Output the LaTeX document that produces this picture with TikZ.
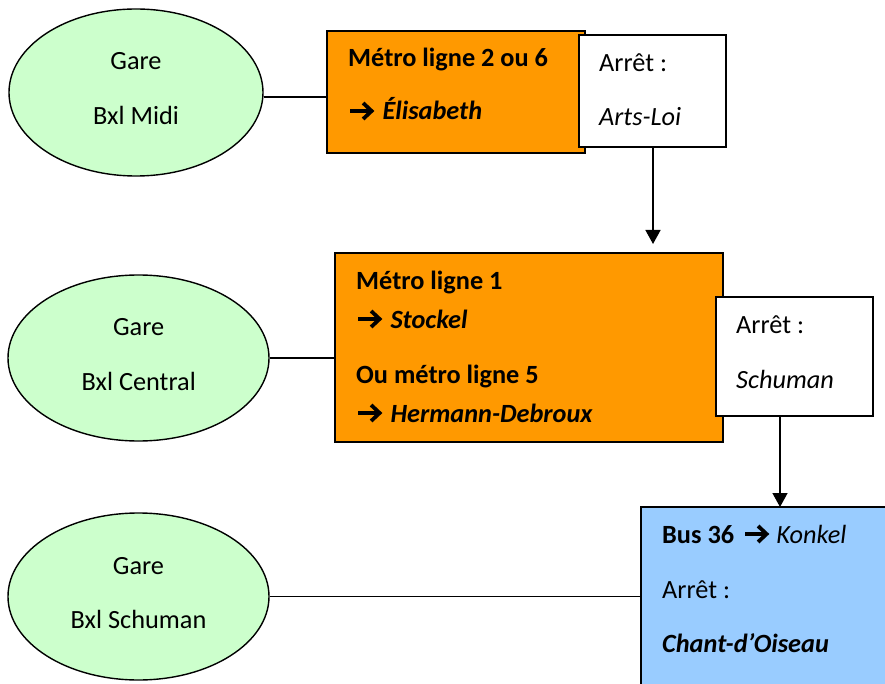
\documentclass[tikz,border=0pt]{standalone}
\usepackage{fontspec}
\setmainfont{Carlito}
\usetikzlibrary{shapes.geometric,arrows.meta}
\definecolor{gareGreen}{HTML}{CCFFCC}
\definecolor{metroOrange}{HTML}{FF9900}
\definecolor{busBlue}{HTML}{99CCFF}
\newcommand{\warr}{\tikz[baseline=0pt,x=1pt,y=1pt]{\draw[line width=3.8pt,line cap=butt,line join=miter] (0,9)--(21,9) (13,17)--(21.5,9)--(13,1);}}
\tikzset{
  gare/.style={ellipse,draw=black,line width=1.4pt,fill=gareGreen,inner sep=0pt},
  metrobox/.style={rectangle,draw=black,line width=1.4pt,fill=metroOrange,inner sep=0pt},
  stopbox/.style={rectangle,draw=black,line width=1.4pt,fill=white,inner sep=0pt},
  busbox/.style={rectangle,draw=black,line width=1.4pt,fill=busBlue,inner sep=0pt},
  txt/.style={inner sep=0pt,font=\fontsize{26.3}{30}\selectfont},
  lt/.style={txt,anchor=base west},
  ct/.style={txt,anchor=base},
  link/.style={draw=black,line width=1.3pt},
  flow/.style={draw=black,line width=1.5pt,-{Triangle[width=15pt,length=14pt]}}
}
\begin{document}
\begin{tikzpicture}[x=1pt,y=-1pt]
\useasboundingbox (0,0) rectangle (885,684);
\clip (0,0) rectangle (885,684);
\fill[white] (0,0) rectangle (885,684);
% ellipses
\node[gare,minimum width=254pt,minimum height=167pt] (e1) at (136,92.5) {};
\node[gare,minimum width=261pt,minimum height=166pt] (e2) at (138.5,358) {};
\node[gare,minimum width=261pt,minimum height=167pt] (e3) at (138.5,596.5) {};
\node[ct] (e1a) at (136,70) {Gare};
\node[ct] (e1b) at (136,125) {Bxl Midi};
\node[ct] (e2a) at (138.7,335) {Gare};
\node[ct] (e2b) at (138.7,390) {Bxl Central};
\node[ct] (e3a) at (138.5,574) {Gare};
\node[ct] (e3b) at (138.5,628) {Bxl Schuman};
% boxes
\node[metrobox,minimum width=258pt,minimum height=122pt] (o1) at (456,92) {};
\node[stopbox,minimum width=147pt,minimum height=112pt] (w1) at (652.5,91) {};
\node[metrobox,minimum width=388pt,minimum height=189pt] (o2) at (529,347.5) {};
\node[stopbox,minimum width=157pt,minimum height=119pt] (w2) at (794.5,356.5) {};
\node[busbox,minimum width=259pt,minimum height=193pt] (b) at (770.5,603.5) {};
% texts
\node[lt] (o1a) at (348,67) {\bfseries Métro ligne 2 ou 6};
\node[lt] (o1b) at (348,120) {\bfseries\warr\hspace{9pt}\itshape Élisabeth};
\node[lt] (w1a) at (599,72) {Arrêt :};
\node[lt] (w1b) at (599,126) {\itshape Arts-Loi};
\node[lt] (o2a) at (356,290) {\bfseries Métro ligne 1};
\node[lt] (o2b) at (356,328) {\bfseries\warr\hspace{9pt}\itshape Stockel};
\node[lt] (o2c) at (356,383) {\bfseries Ou métro ligne 5};
\node[lt] (o2d) at (356,422) {\bfseries\warr\hspace{9pt}\itshape Hermann-Debroux};
\node[lt] (w2a) at (736,333) {Arrêt :};
\node[lt] (w2b) at (736,388) {\itshape Schuman};
\node[lt] (ba) at (662,543) {\textbf{Bus 36}\hspace{9pt}\warr\hspace{8pt}\textit{Konkel}};
\node[lt] (bb) at (662,598) {Arrêt :};
\node[lt] (bc) at (662,652) {\bfseries\itshape Chant-d’Oiseau};
% connectors
\coordinate (l1) at (0,97);
\draw[link] (e1.east |- l1) -- (o1.west |- l1);
\draw[link] (e2.east) -- (e2.east -| o2.west);
\draw[link] (e3.east) -- (e3.east -| b.west);
\coordinate (ar1) at (653,244);
\coordinate (ar2) at (780,507);
\draw[flow] (w1.south -| ar1) -- (ar1);
\draw[flow] (w2.south -| ar2) -- (ar2);
\end{tikzpicture}
\end{document}
